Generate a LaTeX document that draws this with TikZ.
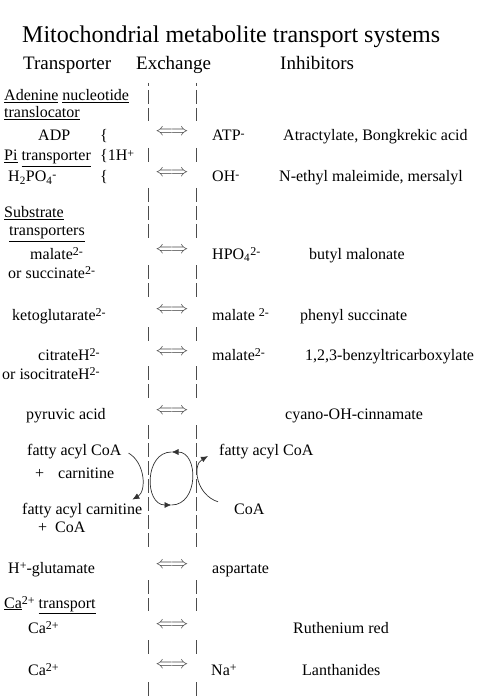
\documentclass[tikz,border=0pt]{standalone}
\usepackage{fontspec}
\setmainfont{Liberation Serif}
\usetikzlibrary{arrows.meta}
\newcommand{\upx}[1]{\raisebox{3.5pt}{\fontsize{12}{12}\selectfont #1}}

\begin{document}
\begin{tikzpicture}[x=1pt,y=-1pt,
  txt/.style={anchor=base west,inner sep=0pt,font=\fontsize{16}{19}\selectfont},
  head/.style={anchor=base west,inner sep=0pt,font=\fontsize{19}{22}\selectfont},
  xch/.style={inner sep=0pt,text=black!75,font=\fontsize{16}{19}\selectfont},
  pipe/.style={black!70,line width=0.8pt,dash pattern=on 14pt off 4pt},
  curv/.style={black!80,line width=0.7pt,-{Latex[length=7pt,width=6pt]}}]
  \useasboundingbox (0,0) rectangle (480,700);
  % title and column heads
  \node[anchor=base west,inner sep=0pt,font=\fontsize{24}{28}\selectfont] (title) at (22,43) {Mitochondrial metabolite transport systems};
  \node[head] (hTrans) at (23,70) {Transporter};
  \node[head] (hExch) at (136,70) {Exchange};
  \node[head] (hInhib) at (280,70) {Inhibitors};
  % membrane
  \draw[black!70,line width=0.8pt] (148,83) -- (148,86) (196,83) -- (196,86);
  \foreach \ya/\yb in {90/121,148/162,188/238,265/297,327/341,366/399,425/549,580/611,640/654,682/696}
    {\draw[pipe] (148,\ya) -- (148,\yb);
     \draw[pipe] (196,\ya) -- (196,\yb);}
  \foreach \y [count=\i] in {132,173,250,310,352,411,565,625,665}
    \node[xch] (xch\i) at (172,\y) {$\Leftarrow\mkern-2mu\Rightarrow$};
  % adenine nucleotide and Pi
  \node[txt] (adenine) at (4,101) {\underline{Adenine} \underline{nucleotide}};
  \node[txt] (transl) at (4,118) {\underline{translocator}};
  \node[txt] (adp) at (38,141) {ADP};
  \node[txt] (brA) at (100,141) {\{};
  \node[txt] (atp) at (212,141) {ATP\upx{-}};
  \node[txt] (inhAtr) at (283,141) {Atractylate, Bongkrekic acid};
  \node[txt] (pitrans) at (4,161) {\underline{Pi} \underline{transporter}};
  \node[txt] (brB) at (100,161) {\{1H\upx{+}};
  \node[txt] (hpo) at (8,182) {H\textsubscript{2}PO\textsubscript{4}\upx{-}};
  \node[txt] (brC) at (100,182) {\{};
  \node[txt] (oh) at (212,182) {OH\upx{-}};
  \node[txt] (inhNem) at (279,182) {N-ethyl maleimide, mersalyl};
  % substrate transporters
  \node[txt] (subs) at (4,218) {\underline{Substrate}};
  \node[txt] (substr) at (9,236) {\underline{transporters}};
  \node[txt] (malA) at (30,259) {malate\upx{2-}};
  \node[txt] (hpoB) at (212,259) {HPO\textsubscript{4}\upx{2-}};
  \node[txt] (inhBut) at (309,259) {butyl malonate};
  \node[txt] (succ) at (8,278) {or succinate\upx{2-}};
  \node[txt] (keto) at (12,320) {ketoglutarate\upx{2-}};
  \node[txt] (malB) at (212,320) {malate \upx{2-}};
  \node[txt] (inhPhe) at (300,320) {phenyl succinate};
  \node[txt] (citr) at (38,360) {citrateH\upx{2-}};
  \node[txt] (malC) at (212,360) {malate\upx{2-}};
  \node[txt] (inhBtc) at (305,360) {1,2,3-benzyltricarboxylate};
  \node[txt] (isoc) at (2,379) {or isocitrateH\upx{2-}};
  \node[txt] (pyr) at (26,419) {pyruvic acid};
  \node[txt] (inhCyc) at (285,419) {cyano-OH-cinnamate};
  % carnitine shuttle
  \node[txt] (facoaL) at (27,455) {fatty acyl CoA};
  \node[txt] (carn) at (35,478) {+\hspace{14pt}carnitine};
  \node[txt] (facarn) at (22,514) {fatty acyl carnitine};
  \node[txt] (coaL) at (38,532) {+\hspace{8pt}CoA};
  \node[txt] (facoaR) at (219,455) {fatty acyl CoA};
  \node[txt] (coaR) at (234,514) {CoA};
  \draw[curv] ([shift={(7,2)}]facoaL.east) .. controls +(17,10) and +(14,-8) .. ([shift={(-10,-3)}]facarn.north east);
  \draw[curv] ([shift={(-16,-7)}]coaR.west) .. controls +(-22,-7) and +(-16,9) .. ([shift={(-11,5)}]facoaR.west);
  \draw[curv] (171.5,505) .. controls (198.8,505) and (198.8,452) .. (171.5,452);
  \draw[curv] (171.5,452) .. controls (144.2,452) and (144.2,505) .. (171.5,505);
  % glutamate and calcium
  \node[txt] (glu) at (8,573) {H\upx{+}-glutamate};
  \node[txt] (asp) at (212,573) {aspartate};
  \node[txt] (catr) at (4,608) {\underline{Ca}\upx{2+} \underline{transport}};
  \node[txt] (caA) at (28,633) {Ca\upx{2+}};
  \node[txt] (inhRu) at (293,633) {Ruthenium red};
  \node[txt] (caB) at (28,675) {Ca\upx{2+}};
  \node[txt] (na) at (211,675) {Na\upx{+}};
  \node[txt] (inhLan) at (302,675) {Lanthanides};
\end{tikzpicture}
\end{document}
